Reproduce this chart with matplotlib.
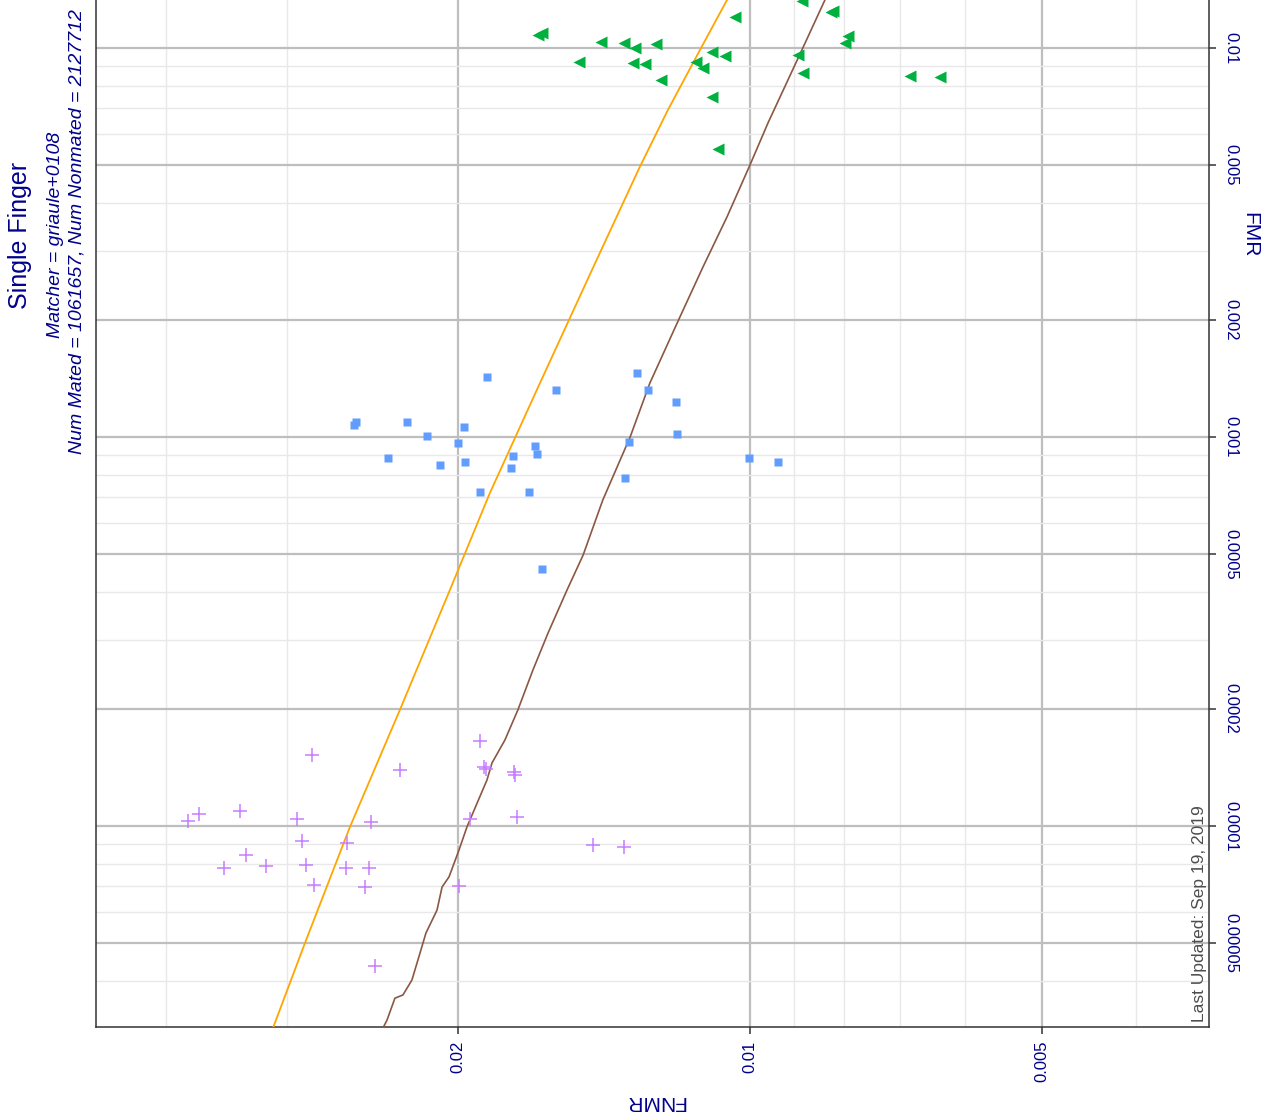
import numpy as np
import matplotlib
matplotlib.use("Agg")
import matplotlib.pyplot as plt
from matplotlib.ticker import LogLocator, NullFormatter, FixedLocator, FixedFormatter

plt.rcParams['font.family'] = ['Liberation Sans', 'DejaVu Sans']

# ---- data (FNMR, FMR) ----
green_fnmr = [0.01654, 0.01638, 0.01424, 0.01349, 0.01314, 0.0125, 0.01501, 0.0132, 0.01283,
              0.01235, 0.01137, 0.01118, 0.01094, 0.01061, 0.01036, 0.01094, 0.01079, 0.00884,
              0.00825, 0.00821, 0.00792, 0.00798, 0.00892, 0.00882, 0.00684, 0.00637]
green_fmr = [0.0108, 0.01093, 0.01036, 0.0103, 0.01, 0.01024, 0.0092, 0.00915, 0.0091,
             0.00827, 0.0092, 0.00888, 0.00977, 0.00954, 0.01201, 0.00748, 0.0055, 0.01321,
             0.01237, 0.01245, 0.01074, 0.0103, 0.00959, 0.00862, 0.00847, 0.00842]

blue_fnmr = [0.02548, 0.0256, 0.02258, 0.01867, 0.01972, 0.02153, 0.02, 0.02361, 0.02087,
             0.01967, 0.01898, 0.01755, 0.01764, 0.0169, 0.01666, 0.01658, 0.01585, 0.01638,
             0.01308, 0.01274, 0.01192, 0.01189, 0.01332, 0.01346, 0.01002, 0.00936]
blue_fmr = [0.001093, 0.001074, 0.001093, 0.001426, 0.001061, 0.001006, 0.000965, 0.000883,
            0.000847, 0.000863, 0.000722, 0.000894, 0.000832, 0.000722, 0.000948, 0.000904,
            0.001321, 0.000458, 0.001461, 0.001321, 0.00123, 0.001018, 0.000971, 0.000785,
            0.000883, 0.000863]

purple_fnmr = [0.03797, 0.03698, 0.03357, 0.02931, 0.02459, 0.02829, 0.02296, 0.01898, 0.0188,
               0.01872, 0.01751, 0.01747, 0.01739, 0.01944, 0.02896, 0.02603, 0.01452, 0.01349,
               0.03309, 0.03485, 0.03155, 0.02869, 0.02609, 0.02471, 0.02815, 0.02494, 0.01995,
               0.02436]
purple_fmr = [0.000103, 0.0001074, 0.0001093, 0.0001042, 0.0001024, 0.0001522, 0.0001393,
              0.0001654, 0.0001418, 0.0001401, 0.0001376, 0.0001352, 0.0001055, 0.0001042,
              0.0000915, 0.0000904, 0.0000894, 0.0000883, 0.0000842, 0.000078, 0.0000789,
              0.0000794, 0.000078, 0.000078, 0.0000705, 0.0000697, 0.0000701, 0.0000437]

orange_fnmr = [0.01056, 0.01126, 0.01215, 0.01299, 0.01455, 0.01646, 0.01854, 0.02039,
               0.02296, 0.02585, 0.02876, 0.03103]
orange_fmr = [0.01328, 0.00988, 0.00693, 0.004943, 0.002688, 0.001377, 0.000718, 0.000404,
              0.0001987, 0.0000994, 0.00005003, 0.00003025]

brown_fnmr = [0.00837, 0.00884, 0.00958, 0.01, 0.01056, 0.01118, 0.01186, 0.01268, 0.01329,
              0.01418, 0.01486, 0.01544, 0.01615, 0.01674, 0.01735, 0.01789, 0.01845, 0.01867,
              0.01911, 0.01958, 0.01995, 0.02043, 0.02077, 0.02102, 0.02158, 0.02184, 0.02231,
              0.02279, 0.02323, 0.02367, 0.0239]
brown_fmr = [0.01328, 0.00988, 0.006417, 0.005, 0.003678, 0.002735, 0.001987, 0.001377, 0.001,
             0.000689, 0.000497, 0.000404, 0.0003134, 0.0002518, 0.0001987, 0.0001664,
             0.0001452, 0.0001313, 0.0001146, 0.0000994, 0.0000868, 0.000074, 0.0000697,
             0.0000608, 0.0000531, 0.000048, 0.0000402, 0.0000368, 0.0000361, 0.0000317,
             0.00003025]

x_breaks = [0.005, 0.01, 0.02]
x_labels = ["0.005", "0.01", "0.02"]
y_breaks = [0.00005, 0.0001, 0.0002, 0.0005, 0.001, 0.002, 0.005, 0.01]
y_labels = ["0.00005", "0.0001", "0.0002", "0.0005", "0.001", "0.002", "0.005", "0.01"]

navy = '#00008B'

fig = plt.figure(figsize=(12.64, 11.17), dpi=100)
W, H = 1264.0, 1117.0
ax = fig.add_axes([96 / W, 1 - 1027 / H, (1209 - 96) / W, 1027 / H])

ax.set_xscale('log')
ax.set_yscale('log')
ax.set_xlim(0.04723, 0.003363)
ax.set_ylim(3.044e-5, 0.01328)

# grid
ax.xaxis.set_major_locator(FixedLocator(x_breaks))
ax.xaxis.set_major_formatter(FixedFormatter(x_labels))
ax.yaxis.set_major_locator(FixedLocator(y_breaks))
ax.yaxis.set_major_formatter(FixedFormatter(y_labels))
ax.xaxis.set_minor_locator(LogLocator(base=10, subs=np.arange(1, 10)))
ax.yaxis.set_minor_locator(LogLocator(base=10, subs=np.arange(1, 10)))
ax.xaxis.set_minor_formatter(NullFormatter())
ax.yaxis.set_minor_formatter(NullFormatter())
ax.grid(which='minor', color='#E8E8E8', lw=1.0)
ax.grid(which='major', color='#BEBEBE', lw=1.6)
ax.set_axisbelow(True)

# lines
ax.plot(orange_fnmr, orange_fmr, color='#FFA500', lw=1.3, zorder=3)
ax.plot(brown_fnmr, brown_fmr, color='#8B5742', lw=1.2, zorder=3)

# points
ax.plot(green_fnmr, green_fmr, ls='none', marker='<', ms=8.5, color='#00B140', mec='none', zorder=4)
ax.plot(blue_fnmr, blue_fmr, ls='none', marker='s', ms=6, color='#619CFF', mec='none', zorder=4)
ax.plot(purple_fnmr, purple_fmr, ls='none', marker='+', ms=10, mew=1.1, color='#C77CFF', zorder=4)

# axes styling
ax.spines['top'].set_visible(False)
for s in ['left', 'bottom', 'right']:
    ax.spines[s].set_color('#333333')
    ax.spines[s].set_linewidth(1.1)
ax.yaxis.tick_right()
ax.tick_params(which='minor', length=0)
ax.tick_params(which='major', length=5, width=1.1, color='#333333', labelcolor=navy,
               labelsize=12)
ax.tick_params(axis='x', which='major', pad=5)
ax.tick_params(axis='y', which='major', pad=5)
for lab in ax.get_xticklabels():
    lab.set_rotation(90)
    lab.set_ha('center')
for lab in ax.get_yticklabels():
    lab.set_rotation(-90)
    lab.set_va('center')

# rotated texts
fig.text(20 / W, 1 - 235 / H, "Single Finger", rotation=90, ha='center', va='center',
         color=navy, fontsize=18)
fig.text(55 / W, 1 - 235 / H, "Matcher = griaule+0108", rotation=90, ha='center', va='center',
         color=navy, fontsize=14, style='italic')
fig.text(77 / W, 1 - 232 / H, "Num Mated = 1061657, Num Nonmated = 2127712", rotation=90,
         ha='center', va='center', color=navy, fontsize=14, style='italic')
fig.text(1250 / W, 1 - 235 / H, "FMR", rotation=270, ha='center', va='center',
         color=navy, fontsize=15)
fig.text(655 / W, 1 - 1102 / H, "FNMR", rotation=180, ha='center', va='center',
         color=navy, fontsize=15)
ax.text(0.998, 0.005, "Last Updated: Sep 19, 2019", transform=ax.transAxes, rotation=90,
        ha='right', va='bottom', color='#4D4D4D', fontsize=12.5)

fig.savefig("out.png", dpi=100)
